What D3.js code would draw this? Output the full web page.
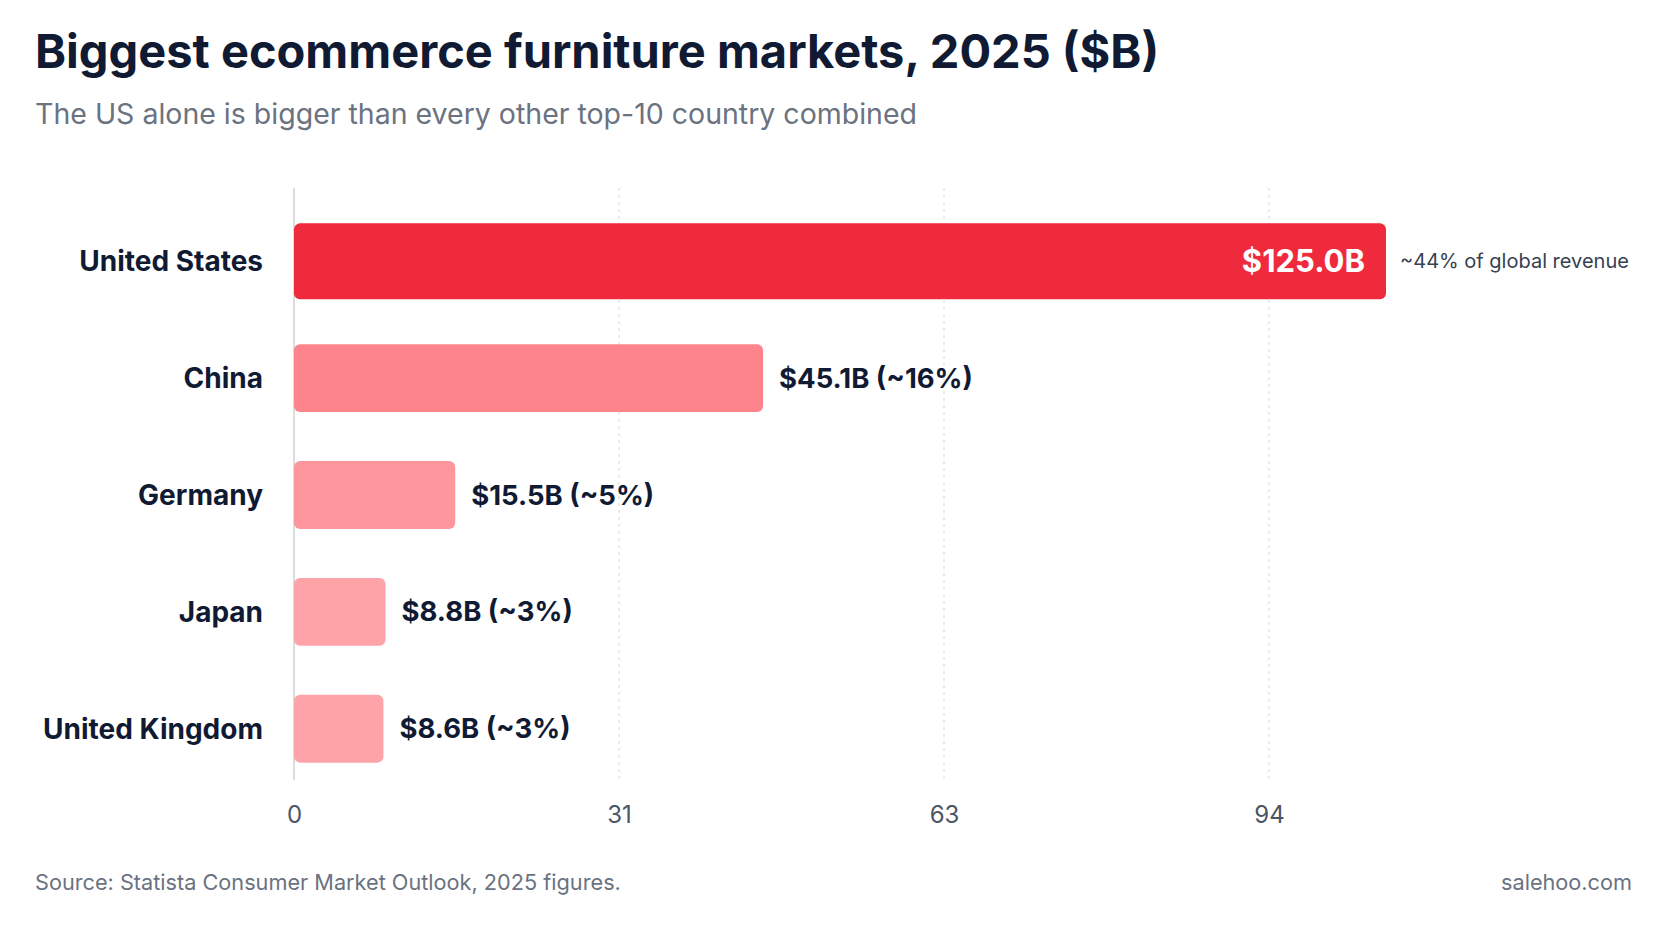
<!DOCTYPE html>
<html>
<head>
<meta charset="UTF-8">
<script src="https://cdn.jsdelivr.net/npm/d3@7/dist/d3.min.js"></script>
<style>
body { margin: 0; background: #fff; font-family: Inter, "Noto Sans", sans-serif; }
</style>
</head>
<body>
<svg id="chart" width="1672" height="941"></svg>
<script>
const countries = ["United States", "China", "Germany", "Japan", "United Kingdom"];
const values = [125.0, 45.1, 15.5, 8.8, 8.6];
const shares = ["~44%", "~16%", "~5%", "~3%", "~3%"];
const colors = ["#ee2a3c", "#fd848b", "#fd979d", "#fea4a9", "#fea4a9"];
const tickValues = [0, 31.25, 62.5, 93.75];
const barCap = 105; // US bar drawn shortened so the label fits

const svg = d3.select("#chart");

svg.append("text").attr("x", 35).attr("y", 68)
  .attr("font-size", 47).attr("font-weight", 700).attr("fill", "#101a33")
  .text("Biggest ecommerce furniture markets, 2025 ($B)");
svg.append("text").attr("x", 35).attr("y", 124)
  .attr("font-size", 28.5).attr("fill", "#6b7280")
  .text("The US alone is bigger than every other top-10 country combined");

const x = d3.scaleLinear().domain([0, 125]).range([294, 1594]);
const y = d3.scaleBand().domain(countries).range([204, 786]).paddingInner(0.42).paddingOuter(0.2);

// grid
svg.append("g").selectAll("line").data(tickValues.slice(1)).join("line")
  .attr("x1", d => x(d)).attr("x2", d => x(d))
  .attr("y1", 188).attr("y2", 780)
  .attr("stroke", "#d8d8dc").attr("stroke-dasharray", "3,4");
svg.append("line").attr("x1", x(0)).attr("x2", x(0)).attr("y1", 188).attr("y2", 780)
  .attr("stroke", "#d0d0d4").attr("stroke-width", 1.5);

const xAxis = svg.append("g").attr("transform", "translate(0,780)")
  .call(d3.axisBottom(x).tickValues(tickValues).tickFormat(d3.format(".0f")).tickSize(0).tickPadding(26));
xAxis.select(".domain").remove();
xAxis.selectAll("text").attr("font-size", 24).attr("fill", "#4b5563").attr("font-family", "Inter, sans-serif");

const rows = svg.append("g").selectAll("g").data(countries).join("g");

rows.append("rect")
  .attr("x", x(0))
  .attr("y", (d, i) => i === 0 ? y(d) - 4 : y(d))
  .attr("height", (d, i) => i === 0 ? y.bandwidth() + 8 : y.bandwidth())
  .attr("width", (d, i) => x(Math.min(values[i], barCap)) - x(0))
  .attr("rx", 6)
  .attr("fill", (d, i) => colors[i]);

rows.append("text")
  .attr("x", 263).attr("y", d => y(d) + y.bandwidth() / 2)
  .attr("dy", "0.35em").attr("text-anchor", "end")
  .attr("font-size", 28).attr("font-weight", 700).attr("fill", "#101a33")
  .text(d => d);

rows.append("text")
  .attr("x", (d, i) => i === 0 ? x(Math.min(values[i], barCap)) - 21 : x(values[i]) + 16)
  .attr("y", d => y(d) + y.bandwidth() / 2)
  .attr("dy", "0.35em")
  .attr("text-anchor", (d, i) => i === 0 ? "end" : "start")
  .attr("font-size", (d, i) => i === 0 ? 31 : 27.5)
  .attr("font-weight", 700)
  .attr("fill", (d, i) => i === 0 ? "#fff" : "#101a33")
  .text((d, i) => i === 0 ? `$${values[i].toFixed(1)}B` : `$${values[i].toFixed(1)}B (${shares[i]})`);

svg.append("text")
  .attr("x", x(barCap) + 14).attr("y", y(countries[0]) + y.bandwidth() / 2)
  .attr("dy", "0.35em").attr("font-size", 20).attr("fill", "#374151")
  .text(`${shares[0]} of global revenue`);

svg.append("text").attr("x", 35).attr("y", 890)
  .attr("font-size", 21.7).attr("fill", "#6b7280")
  .text("Source: Statista Consumer Market Outlook, 2025 figures.");
svg.append("text").attr("x", 1632).attr("y", 890).attr("text-anchor", "end")
  .attr("font-size", 21.7).attr("fill", "#6b7280")
  .text("salehoo.com");
</script>
</body>
</html>
